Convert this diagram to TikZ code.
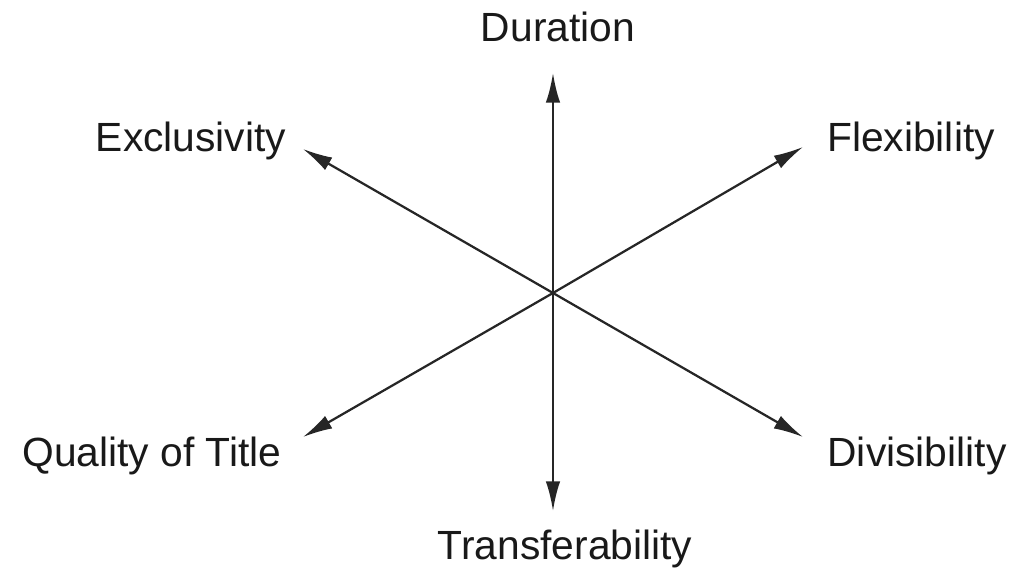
\documentclass[tikz,border=0pt]{standalone}
\usepackage{fontspec}
\setmainfont{Liberation Sans}
\usetikzlibrary{arrows.meta}
\tikzset{
    font={\fontsize{29pt}{34}\selectfont},
}

\begin{document}
\begin{tikzpicture}[scale=1]
\tikzstyle{attribute} = [inner sep=0pt, anchor=base, text=black!90]
\tikzstyle{axis} = [draw, line width=1.6pt, black!85, -{Latex[length=0.74cm,width=0.36cm]}]

\useasboundingbox (-13.825,-6.975) rectangle (12.0,7.325);

% Centre and arrow tips
\coordinate (centre) at (0,0);
\coordinate (duration_tip) at (0,5.5);
\coordinate (transfer_tip) at (0,-5.45);
\coordinate (exclusive_tip) at (-6.25,3.6);
\coordinate (flexible_tip) at (6.25,3.65);
\coordinate (quality_tip) at (-6.25,-3.6);
\coordinate (divisible_tip) at (6.25,-3.6);

% Attributes
\node[attribute] (duration) at (0.125,6.275) {Duration};
\node[attribute] (exclusivity) at (-9.05,3.525) {Exclusivity};
\node[attribute] (flexibility) at (8.95,3.525) {Flexibility};
\node[attribute] (quality) at (-10.025,-4.35) {Quality of Title};
\node[attribute] (divisibility) at (9.1,-4.35) {Divisibility};
\node[attribute] (transferability) at (0.3,-6.675) {Transferability};

% Axes
\draw[axis] (centre) -- (duration_tip);
\draw[axis] (centre) -- (transfer_tip);
\draw[axis] (centre) -- (exclusive_tip);
\draw[axis] (centre) -- (flexible_tip);
\draw[axis] (centre) -- (quality_tip);
\draw[axis] (centre) -- (divisible_tip);
\end{tikzpicture}
\end{document}
